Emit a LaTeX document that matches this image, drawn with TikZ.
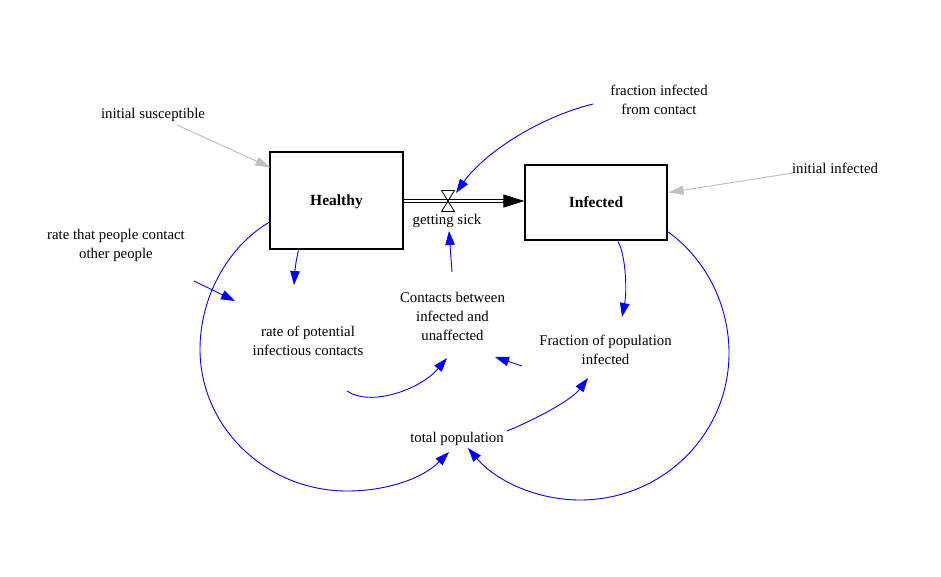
\documentclass[tikz,border=0pt]{standalone}
\usepackage{fontspec}
\setmainfont{Liberation Serif}
\usetikzlibrary{arrows.meta,calc}
\definecolor{lnk}{RGB}{0,0,255}
\definecolor{gry}{RGB}{192,192,192}
\begin{document}
\begin{tikzpicture}[x=1pt,y=-1pt,
  lbl/.style={font=\fontsize{14.8}{19}\selectfont, align=center, inner sep=0pt},
  stock/.style={draw, line width=1.1pt, font=\fontsize{15.5}{19}\selectfont\bfseries, inner sep=0pt, text height=10.5pt, text depth=0pt},
  link/.style={draw=lnk, line width=0.9pt, -{Triangle[length=14pt,width=9.5pt]}},
  init/.style={draw=gry, line width=1pt, -{Triangle[length=15pt,width=9pt]}},
  pipeline/.style={draw=black, line width=0.9pt}
]
\fill[white] (0,0) rectangle (941,576);
\useasboundingbox (0,0) rectangle (941,576);

% stocks
\node[stock, minimum width=133pt, minimum height=97pt] (H) at (336.5,200.5) {Healthy};
\node[stock, minimum width=142pt, minimum height=75pt] (I) at (596,202.5) {Infected};

% flow
\coordinate (V) at (448,201);
\coordinate (PA) at (H.east |- V);
\coordinate (PB) at (I.west |- V);
\draw[pipeline] ($(PA)+(0,-1.6)$) -- ($(PB)+(-18,-1.6)$);
\draw[pipeline] ($(PA)+(0,1.6)$) -- ($(PB)+(-18,1.6)$);
\draw[pipeline, -{Triangle[length=21pt,width=13pt]}] ($(PB)+(-21,0)$) -- (PB);
\draw[line width=0.8pt] ($(V)+(-6.5,-10.5)$) -- ($(V)+(6.5,-10.5)$) -- ($(V)+(-6.5,10.5)$) -- ($(V)+(6.5,10.5)$) -- cycle;

% labels
\node[lbl] (gs) at (447,221) {getting sick};
\node[lbl] (is) at (153,115) {initial susceptible};
\node[lbl] (ii) at (835,168) {initial infected};
\node[lbl] (fic) at (659,99.5) {fraction infected\\from contact};
\node[lbl] (rpc) at (116,245) {rate that people contact\\other people};
\node[lbl] (rpic) at (308,340.5) {rate of potential\\infectious contacts};
\node[lbl] (cbi) at (452.5,316) {Contacts between\\infected and\\unaffected};
\node[lbl] (fpi) at (605.5,349.5) {Fraction of population\\infected};
\node[lbl] (tp) at (457,438.5) {total population};

% initial value connectors
\draw[init] ($(is)+(24,10)$) -- ($(H.north west)+(1,16)$);
\draw[init] ($(ii)+(-42,5)$) -- ($(I.east)+(1,-10)$);

% information links
\draw[link] ($(fic)+(-66,4.5)$) .. controls +(-60,15) and +(25,-36) .. ($(V)+(8,-8)$);
\draw[link] ($(rpc)+(78,36)$) -- ($(rpic)+(-73,-39.5)$);
\draw[link] ($(H.south west)+(29,1)$) .. controls +(-3,12) and +(1,-14) .. ($(rpic)+(-14,-55.5)$);
\draw[link] ($(rpic)+(39,50.5)$) .. controls +(23,16) and +(-27,32) .. ($(cbi)+(-5.5,42)$);
\draw[link] ($(cbi)+(-0.5,-44)$) -- ($(gs)+(2,10)$);
\draw[link] ($(I.south)+(22,1)$) .. controls +(8,14) and +(5,-25) .. ($(fpi)+(16.5,-32.5)$);
\draw[link] ($(fpi)+(-83.5,16.5)$) -- ($(cbi)+(42.5,41)$);
\draw[link] ($(tp)+(50,-7.5)$) .. controls +(20,-8) and +(-18,24) .. ($(fpi)+(-17.5,28.5)$);

% large loops to total population
\draw[link] ($(H.west)+(0,21.5)$) .. controls (226,248) and (200,299) .. (200,349)
   .. controls (200,428) and (267,491) .. (347,491)
   .. controls (386,491) and (422,479) .. ($(tp)+(-8,13.5)$);
\draw[link] ($(I.south east)+(0,-9)$) .. controls (706,259) and (729,305) .. (729,353)
   .. controls (729,435) and (662,500) .. (580,500)
   .. controls (537,500) and (496,481) .. ($(tp)+(11,9.5)$);
\end{tikzpicture}
\end{document}
